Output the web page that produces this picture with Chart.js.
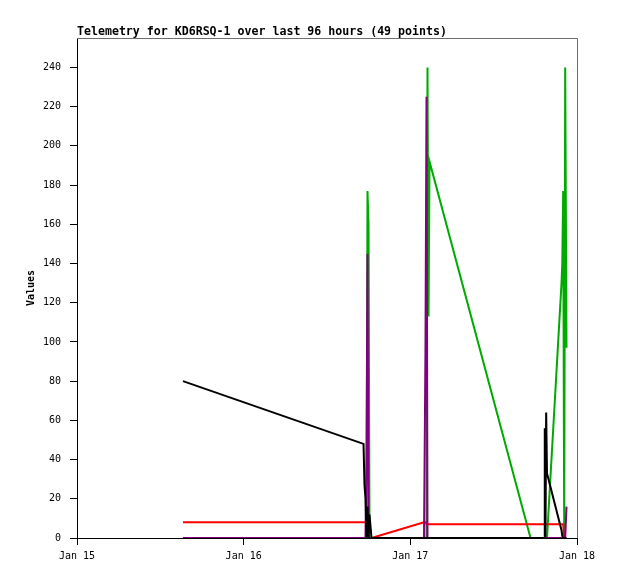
<!DOCTYPE html>
<html>
<head>
<meta charset="utf-8">
<script src="https://cdn.jsdelivr.net/npm/chart.js@4.4.1/dist/chart.umd.min.js"></script>
<style>
  html, body { margin: 0; padding: 0; background: #fff; }
</style>
</head>
<body>
<canvas id="chart" width="618" height="579"></canvas>
<script>
// packet times, in hours after Jan 15 00:00
var hours = [15.26, 41.26, 41.40, 41.54, 41.69, 41.83, 41.98, 42.12, 42.41,
             49.97, 50.18, 50.33, 50.47, 50.62, 50.76, 65.31,
             67.25, 67.36, 67.46, 67.56, 67.68, 69.77, 69.88, 70.01, 70.16, 70.30, 70.49];
var dayLabels = ['Jan 15', 'Jan 16', 'Jan 17', 'Jan 18'];

// telemetry channels
var blackVals  = [80, 48, 27, 20, 0, 16, 0, 12, 0,  0, 0, 0, 0, 0, 0, 0,  0, 56, 0, 64, 33, 4, 1, 0, 0, 0, 0];
var purpleVals = [0, 0, 0, 0, 40, 145, 0, 0, 0,  0, 97, 225, 0, 0, 0, 0,  0, 0, 0, 0, 0, 0, 0, 0, 0, 0, 16];
var redVals    = [8, 8, 8, 8, 8, 0, 0, 0, 0,  8, 8, 7, 7, 7, 7, 7,  7, 7, 7, 7, 7, 7, 7, 7, 0, 0, 0];
var greenVals  = [0, 0, 0, 0, 0, 177, 160, 0, 0,  0, 0, 0, 240, 113, 192, 0,  0, 0, 0, 0, 0, 130, 140, 177, 0, 240, 97];

var mono = 'DejaVu Sans Mono';

function points(vals) {
    return hours.map((h, i) => ({ x: h, y: vals[i] }));
}

function series(vals, color) {
    return {
        data: points(vals),
        borderColor: color,
        borderWidth: 2,
        pointRadius: 0,
        tension: 0,
        fill: false
    };
}

// title and the grey top/right frame
var framePlugin = {
    id: 'frame',
    afterDraw(chart) {
        const ctx = chart.ctx;
        const a = chart.chartArea;
        ctx.save();
        ctx.strokeStyle = '#6e6e6e';
        ctx.lineWidth = 1;
        ctx.beginPath();
        ctx.moveTo(a.left, a.top + 0.5);
        ctx.lineTo(a.right + 0.5, a.top + 0.5);
        ctx.lineTo(a.right + 0.5, a.bottom);
        ctx.stroke();
        ctx.fillStyle = '#000';
        ctx.font = 'bold 11.6px ' + mono;
        ctx.textAlign = 'left';
        ctx.textBaseline = 'alphabetic';
        ctx.fillText('Telemetry for KD6RSQ-1 over last 96 hours (49 points)', a.left, 35);
        ctx.restore();
    }
};

new Chart(document.getElementById('chart'), {
    type: 'line',
    data: {
        datasets: [
            series(blackVals, '#000000'),
            series(purpleVals, '#800080'),
            series(redVals, '#ff0000'),
            series(greenVals, '#00aa00')
        ]
    },
    options: {
        responsive: false,
        animation: false,
        devicePixelRatio: 1,
        layout: { padding: { top: 38, right: 41, left: 0, bottom: 0 } },
        plugins: {
            legend: { display: false },
            tooltip: { enabled: false }
        },
        scales: {
            x: {
                type: 'linear',
                min: 0,
                max: 72,
                afterFit(scale) { scale.height = 41; },
                ticks: {
                    stepSize: 24,
                    padding: 5,
                    color: '#000',
                    font: { family: mono, size: 10 },
                    maxRotation: 0,
                    callback: v => dayLabels[v / 24]
                },
                grid: { drawOnChartArea: false, tickLength: 7, color: '#000' },
                border: { color: '#000' }
            },
            y: {
                min: 0,
                max: 255,
                afterFit(scale) { scale.width = 77; },
                ticks: {
                    stepSize: 20,
                    includeBounds: false,
                    padding: 9,
                    color: '#000',
                    font: { family: mono, size: 10 }
                },
                grid: { drawOnChartArea: false, tickLength: 7, color: '#000' },
                border: { color: '#000' },
                title: {
                    display: true,
                    text: 'Values',
                    color: '#000',
                    font: { family: mono, size: 10, weight: 'bold' },
                    padding: { top: 25, bottom: 0 }
                }
            }
        }
    },
    plugins: [framePlugin]
});
</script>
</body>
</html>
